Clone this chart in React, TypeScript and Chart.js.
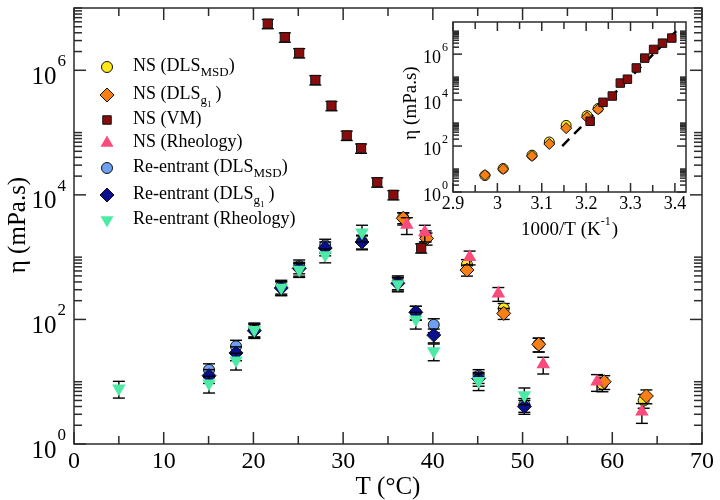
import React, { useEffect, useRef } from "react";
import { Chart, registerables } from "chart.js";

Chart.register(...registerables);

const FONT = '"Liberation Serif", "DejaVu Serif", "Times New Roman", serif';

// ---------------- Main plot data (T in °C, viscosity in mPa.s) ----------------
const nsMsdT = [36.7, 39.2, 43.8, 47.9, 51.8, 58.9, 63.5];
const nsMsdV = [4300, 2200, 760, 150, 40, 9.2, 5.0];
const nsMsdErr = [0.2, 0.2, 0.2, 0.2, 0.25, 0.25, 0.25];

const nsG1T = [36.7, 39.3, 43.8, 47.9, 51.8, 59.1, 63.8];
const nsG1V = [4200, 2000, 620, 125, 40, 10.0, 5.9];
const nsG1Err = [0.22, 0.22, 0.2, 0.2, 0.25, 0.25, 0.25];

const vmT = [21.6, 23.5, 25.1, 26.9, 28.7, 30.4, 32.0, 33.8, 35.6, 38.7];
const vmV = [5.6e6, 3.4e6, 1.9e6, 7.0e5, 2.7e5, 9.0e4, 5.6e4, 1.6e4, 1.0e4, 1.4e3];
const vmErr = [0.17, 0.17, 0.17, 0.17, 0.17, 0.17, 0.17, 0.17, 0.17, 0.17];

const nsRheoT = [37.1, 39.1, 44.1, 47.3, 52.3, 58.3, 63.3];
const nsRheoV = [3300, 2500, 1000, 260, 19, 10.0, 3.3];
const nsRheoErr = [0.3, 0.3, 0.25, 0.25, 0.3, 0.3, 0.35];

const reMsdT = [15.05, 18.06, 20.1, 23.1, 25.1, 28.0, 32.1, 36.1, 38.1, 40.1, 45.1, 50.2];
const reMsdV = [15.5, 37, 70, 340, 720, 1550, 1800, 400, 130, 82, 12.5, 4.3];
const reMsdErr = [0.25, 0.25, 0.25, 0.25, 0.25, 0.25, 0.25, 0.25, 0.25, 0.25, 0.25, 0.25];

const reG1T = [15.05, 18.06, 20.1, 23.1, 25.1, 28.0, 32.1, 36.1, 38.1, 40.1, 45.1, 50.2];
const reG1V = [12.5, 29, 66, 320, 660, 1400, 1750, 380, 130, 56, 11.3, 4.0];
const reG1Err = [0.25, 0.25, 0.25, 0.25, 0.25, 0.25, 0.25, 0.25, 0.25, 0.25, 0.25, 0.25];

const reRheoT = [5.0, 15.05, 18.06, 20.1, 23.1, 25.1, 28.0, 32.1, 36.1, 38.1, 40.1, 45.1, 50.2];
const reRheoV = [7.8, 9.4, 22, 68, 325, 630, 1080, 2500, 370, 100, 31, 10.3, 6.1];
const reRheoErr = [0.3, 0.3, 0.3, 0.25, 0.25, 0.25, 0.25, 0.3, 0.25, 0.3, 0.3, 0.3, 0.3];

// ---------------- Inset data (1000/T in 1/K, viscosity in mPa.s) ----------------
const inMsdX = [2.972, 3.013, 3.078, 3.117, 3.155, 3.202, 3.227];
const inMsdV = [5.2, 10.5, 40, 150, 790, 2100, 4300];
const inG1X = [2.972, 3.013, 3.078, 3.117, 3.155, 3.202, 3.227];
const inG1V = [5.5, 10, 37, 123, 600, 1800, 4000];
const inVmX = [3.209, 3.238, 3.259, 3.277, 3.293, 3.313, 3.332, 3.352, 3.372, 3.393];
const inVmV = [1200, 8000, 15000, 55000, 81000, 2.5e5, 6.7e5, 1.6e6, 3.0e6, 5.0e6];
const fitX = [3.146, 3.403];
const fitV = [100, 1e7];

// ---------------- Ticks ----------------
const mainXTicks = [0, 10, 20, 30, 40, 50, 60, 70];
const mainXMinor = [5, 15, 25, 35, 45, 55, 65];
const mainYExps = [0, 2, 4, 6];
const insetXTicks = [2.9, 3.0, 3.1, 3.2, 3.3, 3.4];
const insetXLabels = ["2.9", "3", "3.1", "3.2", "3.3", "3.4"];
const insetXMinor = [2.95, 3.05, 3.15, 3.25, 3.35];
const insetYExps = [0, 2, 4, 6];

// ---------------- Styles ----------------
const C_YELLOW = "#ffe81a";
const C_ORANGE = "#f77f16";
const C_MAROON = "#8a0b0b";
const C_PINK = "#fb4a7c";
const C_LBLUE = "#6f9ff0";
const C_NAVY = "#0a0f8f";
const C_GREEN = "#4deaa6";

type Ser = {
  label: string;
  sub?: string;
  subsub?: string;
  x: number[];
  y: number[];
  err: number[];
  style: string;
  color: string;
  r: number;
  rot: number;
  border: boolean;
};

const mainSeries: Ser[] = [
  { label: "NS (DLS", sub: "MSD", x: nsMsdT, y: nsMsdV, err: nsMsdErr, style: "circle", color: C_YELLOW, r: 5.5, rot: 0, border: true },
  { label: "NS (DLS", sub: "g", subsub: "1", x: nsG1T, y: nsG1V, err: nsG1Err, style: "rectRot", color: C_ORANGE, r: 7, rot: 0, border: true },
  { label: "NS (VM)", x: vmT, y: vmV, err: vmErr, style: "rect", color: C_MAROON, r: 6.5, rot: 0, border: true },
  { label: "NS (Rheology)", x: nsRheoT, y: nsRheoV, err: nsRheoErr, style: "triangle", color: C_PINK, r: 7.8, rot: 0, border: false },
  { label: "Re-entrant (DLS", sub: "MSD", x: reMsdT, y: reMsdV, err: reMsdErr, style: "circle", color: C_LBLUE, r: 5.5, rot: 0, border: true },
  { label: "Re-entrant (DLS", sub: "g", subsub: "1", x: reG1T, y: reG1V, err: reG1Err, style: "rectRot", color: C_NAVY, r: 7, rot: 0, border: true },
  { label: "Re-entrant (Rheology)", x: reRheoT, y: reRheoV, err: reRheoErr, style: "triangle", color: C_GREEN, r: 7.8, rot: 180, border: false },
];

const legendRows = [67, 95, 120, 143, 168, 195, 220];

function drawMarker(ctx: CanvasRenderingContext2D, s: Ser, x: number, y: number, r: number) {
  ctx.save();
  ctx.beginPath();
  if (s.style === "circle") ctx.arc(x, y, r, 0, Math.PI * 2);
  else if (s.style === "rect") {
    const h = r * Math.SQRT1_2;
    ctx.rect(x - h, y - h, 2 * h, 2 * h);
  } else if (s.style === "rectRot") {
    ctx.moveTo(x, y - r);
    ctx.lineTo(x + r, y);
    ctx.lineTo(x, y + r);
    ctx.lineTo(x - r, y);
    ctx.closePath();
  } else {
    const rad0 = (s.rot * Math.PI) / 180;
    for (let k = 0; k < 3; k++) {
      const a = rad0 + (k * 2 * Math.PI) / 3;
      const px = x + Math.sin(a) * r;
      const py = y - Math.cos(a) * r;
      if (k === 0) ctx.moveTo(px, py);
      else ctx.lineTo(px, py);
    }
    ctx.closePath();
  }
  ctx.fillStyle = s.color;
  ctx.fill();
  if (s.border) {
    ctx.lineWidth = 1;
    ctx.strokeStyle = "#111";
    ctx.stroke();
  }
  ctx.restore();
}

function line(ctx: CanvasRenderingContext2D, x1: number, y1: number, x2: number, y2: number) {
  ctx.beginPath();
  ctx.moveTo(x1, y1);
  ctx.lineTo(x2, y2);
  ctx.stroke();
}

function drawPow(ctx: CanvasRenderingContext2D, exp: number, rightX: number, y: number, size: number, supSize: number) {
  ctx.save();
  ctx.fillStyle = "#000";
  ctx.textBaseline = "middle";
  ctx.font = `${supSize}px ${FONT}`;
  const sw = ctx.measureText(String(exp)).width;
  ctx.textAlign = "left";
  ctx.fillText(String(exp), rightX - sw, y - size * 0.42);
  ctx.font = `${size}px ${FONT}`;
  ctx.textAlign = "right";
  ctx.fillText("10", rightX - sw - 1, y + size * 0.2);
  ctx.restore();
}

function makeErrorHook(seriesList: Ser[], cap: number) {
  return (chart: any, args: any) => {
    const s = seriesList[args.index];
    if (!s || !s.err || !s.err.length) return;
    const { ctx } = chart;
    const xs = chart.scales.x;
    const ys = chart.scales.y;
    ctx.save();
    ctx.strokeStyle = "#000";
    ctx.lineWidth = 1.4;
    const a = chart.chartArea;
    ctx.beginPath();
    ctx.rect(a.left, a.top, a.right - a.left, a.bottom - a.top);
    ctx.clip();
    for (let i = 0; i < s.x.length; i++) {
      const px = xs.getPixelForValue(s.x[i]);
      const lo = ys.getPixelForValue(s.y[i] * (1 - s.err[i]));
      const hi = ys.getPixelForValue(s.y[i] * (1 + s.err[i]));
      line(ctx, px, lo, px, hi);
      line(ctx, px - cap, lo, px + cap, lo);
      line(ctx, px - cap, hi, px + cap, hi);
    }
    ctx.restore();
  };
}

const mainDecor = {
  id: "mainDecor",
  beforeDatasetDraw: makeErrorHook(mainSeries, 6),
  afterDraw(chart: any) {
    const { ctx, chartArea: a } = chart;
    const xs = chart.scales.x;
    const ys = chart.scales.y;
    ctx.save();
    ctx.strokeStyle = "#2b2b2b";
    ctx.lineWidth = 1.5;
    ctx.strokeRect(a.left, a.top, a.right - a.left, a.bottom - a.top);
    mainXTicks.forEach((t) => {
      const px = xs.getPixelForValue(t);
      line(ctx, px, a.bottom, px, a.bottom - 12);
      line(ctx, px, a.top, px, a.top + 12);
    });
    mainXMinor.forEach((t) => {
      const px = xs.getPixelForValue(t);
      line(ctx, px, a.bottom, px, a.bottom - 8);
      line(ctx, px, a.top, px, a.top + 8);
    });
    mainYExps.forEach((e) => {
      const py = ys.getPixelForValue(Math.pow(10, e));
      line(ctx, a.left, py, a.left + 12, py);
      line(ctx, a.right, py, a.right - 12, py);
      for (let k = 2; k <= 10; k++) {
        const v = k * Math.pow(10, e);
        if (v > 1e7) continue;
        const q = ys.getPixelForValue(v);
        line(ctx, a.left, q, a.left + 8, q);
        line(ctx, a.right, q, a.right - 8, q);
      }
    });
    ctx.fillStyle = "#000";
    ctx.font = `24px ${FONT}`;
    ctx.textAlign = "center";
    ctx.textBaseline = "middle";
    mainXTicks.forEach((t) => {
      ctx.fillText(String(t), xs.getPixelForValue(t), a.bottom + 18);
    });
    mainYExps.forEach((e) => {
      const py = ys.getPixelForValue(Math.pow(10, e));
      drawPow(ctx, e, a.left - 8, py + 2, 25, 17);
    });
    ctx.font = `25px ${FONT}`;
    ctx.textAlign = "center";
    ctx.fillText("T (°C)", (a.left + a.right) / 2, 487);
    ctx.save();
    ctx.translate(18, 225);
    ctx.rotate(-Math.PI / 2);
    ctx.fillText("η (mPa.s)", 0, 0);
    ctx.restore();
    mainSeries.forEach((s, i) => {
      const y = legendRows[i];
      drawMarker(ctx, s, 107, y, s.style === "triangle" ? 7.5 : s.style === "rect" ? 6 : s.style === "rectRot" ? 7 : 5.5);
      ctx.fillStyle = "#000";
      ctx.textAlign = "left";
      ctx.textBaseline = "middle";
      ctx.font = `18px ${FONT}`;
      let x = 133;
      ctx.fillText(s.label, x, y - 1);
      x += ctx.measureText(s.label).width;
      if (s.sub) {
        ctx.font = `13px ${FONT}`;
        ctx.fillText(s.sub, x, y + 6);
        x += ctx.measureText(s.sub).width;
        if (s.subsub) {
          ctx.font = `9px ${FONT}`;
          ctx.fillText(s.subsub, x, y + 10);
          x += ctx.measureText(s.subsub).width + 4;
        }
        ctx.font = `18px ${FONT}`;
        ctx.fillText(")", x, y - 1);
      }
    });
    ctx.restore();
  },
};

// ---------------- Inset ----------------
const insetSeries: Ser[] = [
  { label: "fit", x: fitX, y: fitV, err: [], style: "line", color: "#000", r: 0, rot: 0, border: false },
  { label: "msd", x: inMsdX, y: inMsdV, err: [], style: "circle", color: C_YELLOW, r: 5, rot: 0, border: true },
  { label: "g1", x: inG1X, y: inG1V, err: [], style: "rectRot", color: C_ORANGE, r: 5.5, rot: 0, border: true },
  { label: "vm", x: inVmX, y: inVmV, err: [], style: "rect", color: C_MAROON, r: 6, rot: 0, border: true },
];

const insetDecor = {
  id: "insetDecor",
  afterDraw(chart: any) {
    const { ctx, chartArea: a } = chart;
    const xs = chart.scales.x;
    const ys = chart.scales.y;
    ctx.save();
    ctx.strokeStyle = "#2b2b2b";
    ctx.lineWidth = 1.5;
    ctx.strokeRect(a.left, a.top, a.right - a.left, a.bottom - a.top);
    insetXTicks.forEach((t) => {
      const px = xs.getPixelForValue(t);
      line(ctx, px, a.bottom, px, a.bottom - 9);
      line(ctx, px, a.top, px, a.top + 9);
    });
    insetXMinor.forEach((t) => {
      const px = xs.getPixelForValue(t);
      line(ctx, px, a.bottom, px, a.bottom - 7);
      line(ctx, px, a.top, px, a.top + 7);
    });
    insetYExps.forEach((e) => {
      const py = ys.getPixelForValue(Math.pow(10, e));
      line(ctx, a.left, py, a.left + 9, py);
      line(ctx, a.right, py, a.right - 9, py);
      for (let k = 2; k <= 10; k++) {
        const v = k * Math.pow(10, e);
        if (v > ys.max) continue;
        const q = ys.getPixelForValue(v);
        line(ctx, a.left, q, a.left + 6, q);
        line(ctx, a.right, q, a.right - 6, q);
      }
    });
    ctx.fillStyle = "#000";
    ctx.font = `18px ${FONT}`;
    ctx.textAlign = "center";
    ctx.textBaseline = "middle";
    insetXTicks.forEach((t, i) => {
      ctx.fillText(insetXLabels[i], xs.getPixelForValue(t), a.bottom + 12);
    });
    insetYExps.forEach((e) => {
      const py = ys.getPixelForValue(Math.pow(10, e));
      drawPow(ctx, e, a.left - 5, py + 1, 18, 12);
    });
    ctx.font = `19px ${FONT}`;
    ctx.textAlign = "left";
    const t1 = "1000/T (K";
    const w1 = ctx.measureText(t1).width;
    ctx.font = `12px ${FONT}`;
    const w2 = ctx.measureText("-1").width;
    ctx.font = `19px ${FONT}`;
    const w3 = ctx.measureText(")").width;
    const total = w1 + w2 + w3 + 1;
    const x0 = (a.left + a.right) / 2 - total / 2;
    const ty = 230;
    ctx.fillText(t1, x0, ty);
    ctx.font = `12px ${FONT}`;
    ctx.fillText("-1", x0 + w1, ty - 8);
    ctx.font = `19px ${FONT}`;
    ctx.fillText(")", x0 + w1 + w2 + 1, ty);
    ctx.save();
    ctx.translate(411, 103);
    ctx.rotate(-Math.PI / 2);
    ctx.textAlign = "center";
    ctx.fillText("η (mPa.s)", 0, 0);
    ctx.restore();
    ctx.restore();
  },
};

export default function App() {
  const mainRef = useRef<HTMLCanvasElement>(null);
  const insetRef = useRef<HTMLCanvasElement>(null);

  useEffect(() => {
    const mainDatasets = mainSeries.map((s, i) => ({
      label: s.label,
      data: s.x.map((t, j) => ({ x: t, y: s.y[j] })),
      pointStyle: s.style,
      pointRadius: s.r,
      pointRotation: s.rot,
      backgroundColor: s.color,
      borderColor: s.border ? "#111" : s.color,
      borderWidth: s.border ? 1 : 0,
      showLine: false,
      order: 10 - i,
    }));
    const mainChart = new Chart(mainRef.current as HTMLCanvasElement, {
      type: "scatter",
      data: { datasets: mainDatasets as any },
      options: {
        animation: false,
        responsive: false,
        devicePixelRatio: 1,
        events: [],
        layout: { padding: { left: 74, right: 18, top: 3, bottom: 56 } },
        scales: {
          x: { type: "linear", min: 0, max: 70, display: false },
          y: { type: "logarithmic", min: 1, max: 1e7, display: false },
        },
        plugins: { legend: { display: false }, tooltip: { enabled: false } },
      },
      plugins: [mainDecor],
    });

    const insetDatasets = insetSeries.map((s, i) => {
      const data = s.x.map((t, j) => ({ x: t, y: s.y[j] }));
      if (s.style === "line") {
        return {
          type: "line",
          data,
          borderColor: "#000",
          borderWidth: 2.5,
          borderDash: [10, 7],
          pointRadius: 0,
          showLine: true,
          fill: false,
          order: 10,
        };
      }
      return {
        type: "scatter",
        data,
        pointStyle: s.style,
        pointRadius: s.r,
        backgroundColor: s.color,
        borderColor: "#111",
        borderWidth: 1,
        showLine: false,
        order: 10 - i,
      };
    });
    const insetChart = new Chart(insetRef.current as HTMLCanvasElement, {
      type: "scatter",
      data: { datasets: insetDatasets as any },
      options: {
        animation: false,
        responsive: false,
        devicePixelRatio: 1,
        events: [],
        layout: { padding: { left: 453, right: 34, top: 22, bottom: 308 } },
        scales: {
          x: { type: "linear", min: 2.9, max: 3.425, display: false },
          y: { type: "logarithmic", min: 1, max: 2.5e7, display: false },
        },
        plugins: { legend: { display: false }, tooltip: { enabled: false } },
      },
      plugins: [insetDecor],
    });

    return () => {
      mainChart.destroy();
      insetChart.destroy();
    };
  }, []);

  return (
    <div style={{ position: "absolute", left: 0, top: 0, width: 720, height: 500, background: "#fff" }}>
      <canvas ref={mainRef} width={720} height={500} style={{ position: "absolute", left: 0, top: 0 }} />
      <canvas ref={insetRef} width={720} height={500} style={{ position: "absolute", left: 0, top: 0 }} />
    </div>
  );
}
